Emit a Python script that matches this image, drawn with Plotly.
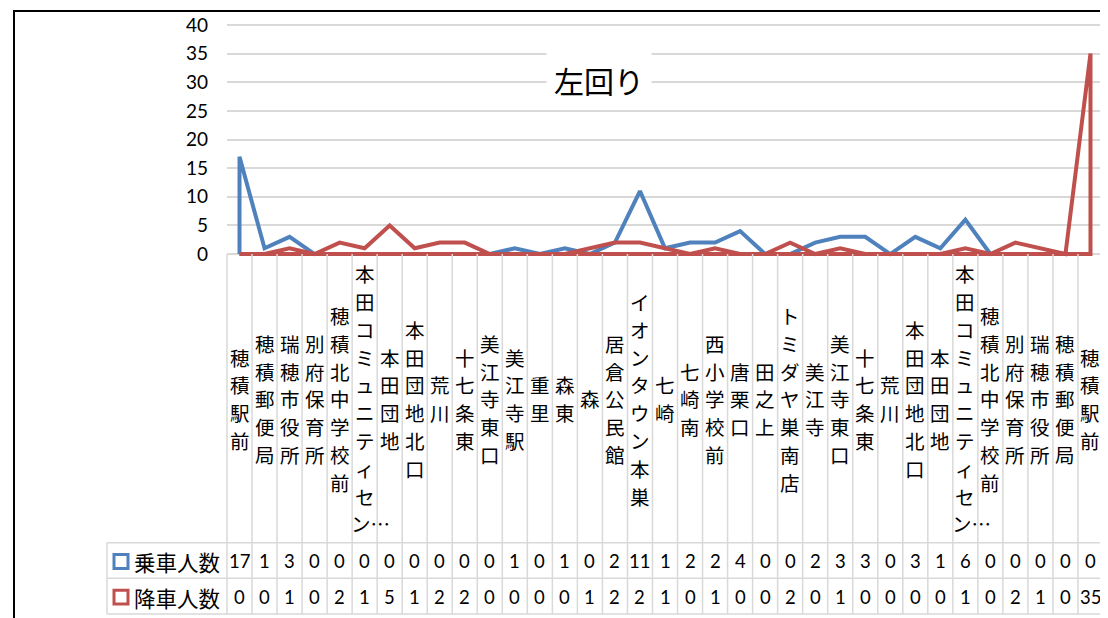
import plotly.graph_objects as go

# ---------------- data ----------------
stops = ["穂積駅前", "穂積郵便局", "瑞穂市役所", "別府保育所", "穂積北中学校前",
         "本田コミュニティセン…", "本田団地", "本田団地北口", "荒川", "十七条東",
         "美江寺東口", "美江寺駅", "重里", "森東", "森", "居倉公民館",
         "イオンタウン本巣", "七崎", "七崎南", "西小学校前", "唐栗口", "田之上",
         "トミダヤ巣南店", "美江寺", "美江寺東口", "十七条東", "荒川",
         "本田団地北口", "本田団地", "本田コミュニティセン…", "穂積北中学校前",
         "別府保育所", "瑞穂市役所", "穂積郵便局", "穂積駅前"]
boarding = [17, 1, 3, 0, 0, 0, 0, 0, 0, 0, 0, 1, 0, 1, 0, 2, 11, 1, 2, 2, 4, 0, 0,
            2, 3, 3, 0, 3, 1, 6, 0, 0, 0, 0, 0]
alighting = [0, 0, 1, 0, 2, 1, 5, 1, 2, 2, 0, 0, 0, 0, 1, 2, 2, 1, 0, 1, 0, 0, 2,
             0, 1, 0, 0, 0, 0, 1, 0, 2, 1, 0, 35]
series_names = ["乗車人数", "降車人数"]
series_colors = ["#4F81BD", "#C0504D"]
y_ticks = [0, 5, 10, 15, 20, 25, 30, 35, 40]
title_text = "左回り"

# ---------------- geometry (reference-pixel helpers) ----------------
OX, OY = 8, 8                  # page body offset
W, H = 1108 - OX, 618 - OY     # figure size
PL, PR, PT, PB = 227, 1103, 20, 260   # plot area in reference pixels
L, R, T, B = PL - OX, W - (PR - OX), PT - OY, H - (PB - OY)
PW, PH = W - L - R, H - T - B
n = len(stops)


def px(x):
    return (x - PL) / PW


def py(y):
    return (PB - y) / PH


unit = (254 - 23) / 40.0
y_lo = -(PB - 254) / unit
y_hi = 40 + (23 - PT) / unit

JP = "Noto Sans CJK JP"
NUM = "Lato, Noto Sans CJK JP"

fig = go.Figure()
idx = list(range(n))
for name, vals, col in zip(series_names, [boarding, alighting], series_colors):
    fig.add_trace(go.Scatter(
        x=[0] + idx + [n - 1, 0],
        y=[0] + vals + [0, 0],
        mode="lines", name=name,
        line=dict(color=col, width=4),
        hoverinfo="skip", showlegend=False))

shapes = []
grid = "#D9D9D9"
# outer chart border
shapes.append(dict(type="rect", xref="paper", yref="paper",
                   x0=px(14), x1=px(1125), y0=py(640), y1=py(9),
                   line=dict(color="black", width=2), fillcolor="rgba(0,0,0,0)"))
# data table vertical lines
for k in range(n + 1):
    shapes.append(dict(type="line", xref="paper", yref="paper",
                       x0=k / n, x1=k / n, y0=py(254), y1=py(617),
                       line=dict(color=grid, width=1.5)))
# data table horizontal lines
for yy in [545, 581, 617]:
    shapes.append(dict(type="line", xref="paper", yref="paper",
                       x0=px(107), x1=1, y0=py(yy), y1=py(yy),
                       line=dict(color=grid, width=1.5)))
shapes.append(dict(type="line", xref="paper", yref="paper",
                   x0=px(107), x1=px(107), y0=py(545), y1=py(617),
                   line=dict(color=grid, width=1.5)))
# legend keys
row_y = [564, 600]
for ry, col in zip(row_y, series_colors):
    shapes.append(dict(type="rect", xref="paper", yref="paper",
                       x0=px(114), x1=px(128), y0=py(ry + 7), y1=py(ry - 7),
                       line=dict(color=col, width=3), fillcolor="white"))

annotations = []
# title
annotations.append(dict(text=title_text, xref="paper", yref="paper",
                        x=px(599), y=py(78), showarrow=False,
                        xanchor="center", yanchor="middle",
                        font=dict(family=JP, size=30, color="black"),
                        bgcolor="white", borderpad=7))
# category labels (vertical, one character per line)
step = 28
for i, s in enumerate(stops):
    chars = []
    for ch in s:
        if ch == "…" and chars:
            chars[-1] += ch
        else:
            chars.append(ch)
    m = len(chars)
    for j, ch in enumerate(chars):
        cy = 400 + (j - (m - 1) / 2) * step
        annotations.append(dict(text=ch, xref="x", yref="paper",
                                x=i, y=py(cy), showarrow=False,
                                yanchor="middle", xanchor="center",
                                xshift=(6 if len(ch) > 1 else 0),
                                font=dict(family=JP, size=19.5, color="black")))
# table values
for ry, vals in zip(row_y, [boarding, alighting]):
    for i, v in enumerate(vals):
        annotations.append(dict(text=str(v), xref="x", yref="paper",
                                x=i, y=py(ry), showarrow=False,
                                xanchor="center", yanchor="middle",
                                font=dict(family=NUM, size=18.5, color="black")))
# legend labels
for ry, name in zip(row_y, series_names):
    annotations.append(dict(text=name, xref="paper", yref="paper",
                            x=px(132), y=py(ry), xanchor="left", yanchor="middle",
                            showarrow=False,
                            font=dict(family=JP, size=21.5, color="black")))

fig.update_layout(
    width=W, height=H,
    margin=dict(l=L, r=R, t=T, b=B, pad=0),
    paper_bgcolor="white", plot_bgcolor="white",
    shapes=shapes, annotations=annotations,
    xaxis=dict(range=[-0.5, n - 0.5], showticklabels=False, showgrid=False,
               zeroline=False, showline=False, ticks=""),
    yaxis=dict(range=[y_lo, y_hi], tickvals=y_ticks, ticktext=[str(t) for t in y_ticks],
               showgrid=True, gridcolor=grid, gridwidth=1.5, zeroline=False,
               showline=False, ticks="", ticklabelstandoff=18,
               tickfont=dict(family=NUM, size=19, color="black")),
)

fig.write_html("out.html")
